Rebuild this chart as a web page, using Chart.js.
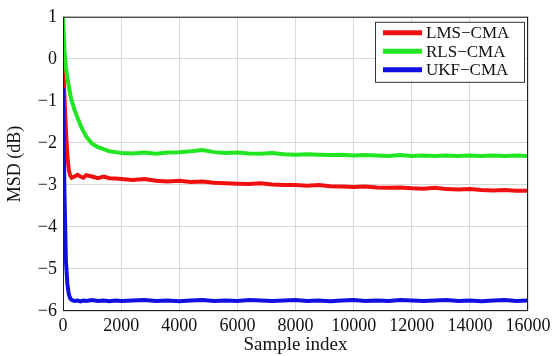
<!DOCTYPE html>
<html lang="en">

<head>
    <meta charset="UTF-8">
    <title>MSD vs sample index</title>
    <script src="https://cdn.jsdelivr.net/npm/chart.js"></script>
    <style>
        body {
            margin: 0;
            background: #ffffff;
        }
    </style>
</head>

<body>
    <canvas id="msdChart" width="555" height="356"></canvas>

    <script>
        // sample positions shared by all three curves
        const sampleIdx = [0, 50, 100, 150, 200, 250, 300, 400, 500, 600, 700, 800, 1000, 1200, 1400, 1600, 1800, 2000,
            2400, 2800, 3200, 3600, 4000, 4400, 4800, 5200, 5600, 6000, 6400, 6800, 7200, 7600, 8000, 8400, 8800, 9200,
            9600, 10000, 10400, 10800, 11200, 11600, 12000, 12400, 12800, 13200, 13600, 14000, 14400, 14800, 15200, 15600, 16000];

        const lmsCma = [0.0, -0.9, -1.7, -2.3, -2.65, -2.78, -2.83, -2.8, -2.76, -2.8, -2.83, -2.77, -2.8, -2.84, -2.8, -2.84, -2.85, -2.86,
            -2.88, -2.86, -2.9, -2.92, -2.9, -2.93, -2.92, -2.95, -2.96, -2.97, -2.98, -2.96, -2.99, -3.0, -3.0, -3.02, -3.0, -3.03,
            -3.04, -3.05, -3.04, -3.06, -3.07, -3.06, -3.08, -3.09, -3.07, -3.1, -3.11, -3.1, -3.12, -3.13, -3.12, -3.14, -3.14];

        const rlsCma = [1.0, 0.2, -0.2, -0.45, -0.65, -0.85, -1.0, -1.22, -1.4, -1.58, -1.72, -1.85, -2.02, -2.1, -2.15, -2.2, -2.22, -2.24,
            -2.25, -2.23, -2.26, -2.23, -2.22, -2.2, -2.17, -2.22, -2.24, -2.23, -2.25, -2.26, -2.24, -2.27, -2.28, -2.27, -2.28, -2.29,
            -2.28, -2.3, -2.29, -2.3, -2.31, -2.29, -2.31, -2.3, -2.31, -2.3, -2.31, -2.3, -2.31, -2.3, -2.31, -2.3, -2.31];

        const ukfCma = [-0.7, -3.2, -4.8, -5.35, -5.6, -5.7, -5.74, -5.76, -5.75, -5.77, -5.75, -5.76, -5.74, -5.76, -5.75, -5.77, -5.75, -5.76,
            -5.75, -5.74, -5.76, -5.75, -5.77, -5.75, -5.74, -5.76, -5.75, -5.76, -5.74, -5.75, -5.76, -5.75, -5.74, -5.76, -5.75, -5.77,
            -5.75, -5.74, -5.76, -5.75, -5.76, -5.74, -5.75, -5.76, -5.75, -5.74, -5.76, -5.75, -5.77, -5.75, -5.74, -5.76, -5.75];

        const xTicks = [0, 2000, 4000, 6000, 8000, 10000, 12000, 14000, 16000];
        const yTicks = [-6, -5, -4, -3, -2, -1, 0, 1];

        const serif = "'Liberation Serif', 'Times New Roman', serif";

        function toPoints(values) {
            return sampleIdx.map((x, i) => ({ x: x, y: values[i] }));
        }

        function minusSign(v) {
            return String(v).replace('-', '\u2212');
        }

        // box round the plot area plus a MATLAB style legend inside it
        const boxAndLegend = {
            id: 'boxAndLegend',
            afterDatasetsDraw(chart) {
                const ctx = chart.ctx;
                const a = chart.chartArea;
                ctx.save();
                ctx.strokeStyle = '#222';
                ctx.lineWidth = 1;
                ctx.strokeRect(a.left + 0.5, a.top + 0.5, a.right - a.left - 1, a.bottom - a.top - 1);

                const w = 149, h = 60;
                const bx = a.right - w - 4, by = a.top + 5;
                ctx.fillStyle = '#fff';
                ctx.fillRect(bx, by, w, h);
                ctx.strokeStyle = '#333';
                ctx.strokeRect(bx + 0.5, by + 0.5, w, h);

                ctx.font = '17px ' + serif;
                ctx.textBaseline = 'middle';
                chart.data.datasets.forEach((ds, i) => {
                    const y = by + 11 + i * 18.5;
                    ctx.strokeStyle = ds.borderColor;
                    ctx.lineWidth = 5;
                    ctx.beginPath();
                    ctx.moveTo(bx + 8, y);
                    ctx.lineTo(bx + 47, y);
                    ctx.stroke();
                    ctx.fillStyle = '#111';
                    ctx.fillText(ds.label, bx + 51, y + 1);
                });
                ctx.restore();
            }
        };

        const ctx = document.getElementById('msdChart').getContext('2d');
        new Chart(ctx, {
            type: 'line',
            data: {
                datasets: [{
                    label: 'LMS\u2212CMA',
                    data: toPoints(lmsCma),
                    borderColor: '#f01010',
                    borderWidth: 4,
                    pointRadius: 0,
                    tension: 0,
                    order: 2
                }, {
                    label: 'RLS\u2212CMA',
                    data: toPoints(rlsCma),
                    borderColor: '#22e622',
                    borderWidth: 4,
                    pointRadius: 0,
                    tension: 0,
                    order: 1
                }, {
                    label: 'UKF\u2212CMA',
                    data: toPoints(ukfCma),
                    borderColor: '#1010e0',
                    borderWidth: 4,
                    pointRadius: 0,
                    tension: 0,
                    order: 0
                }]
            },
            options: {
                responsive: false,
                animation: false,
                layout: {
                    padding: { top: 8, right: 27, left: 0, bottom: 0 }
                },
                plugins: {
                    legend: { display: false },
                    tooltip: { enabled: false }
                },
                scales: {
                    x: {
                        type: 'linear',
                        min: 0,
                        max: 16000,
                        afterBuildTicks: s => { s.ticks = xTicks.map(v => ({ value: v })); },
                        afterFit: s => { s.height = 45; },
                        grid: { color: '#d8d8d8', drawTicks: false },
                        border: { display: false },
                        ticks: {
                            color: '#111',
                            padding: 4,
                            maxRotation: 0,
                            font: { family: serif, size: 18 },
                            callback: v => String(v)
                        },
                        title: {
                            display: true,
                            text: 'Sample index',
                            color: '#111',
                            padding: { top: 0, bottom: 0 },
                            font: { family: serif, size: 19 }
                        }
                    },
                    y: {
                        min: -6,
                        max: 1,
                        afterBuildTicks: s => { s.ticks = yTicks.map(v => ({ value: v })); },
                        afterFit: s => { s.width = 63; },
                        grid: { color: '#d8d8d8', drawTicks: false },
                        border: { display: false },
                        ticks: {
                            color: '#111',
                            padding: 6,
                            font: { family: serif, size: 18 },
                            callback: v => minusSign(v)
                        },
                        title: {
                            display: true,
                            text: 'MSD (dB)',
                            color: '#111',
                            padding: { top: 4, bottom: 2 },
                            font: { family: serif, size: 18 }
                        }
                    }
                }
            },
            plugins: [boxAndLegend]
        });
    </script>

</body>

</html>
